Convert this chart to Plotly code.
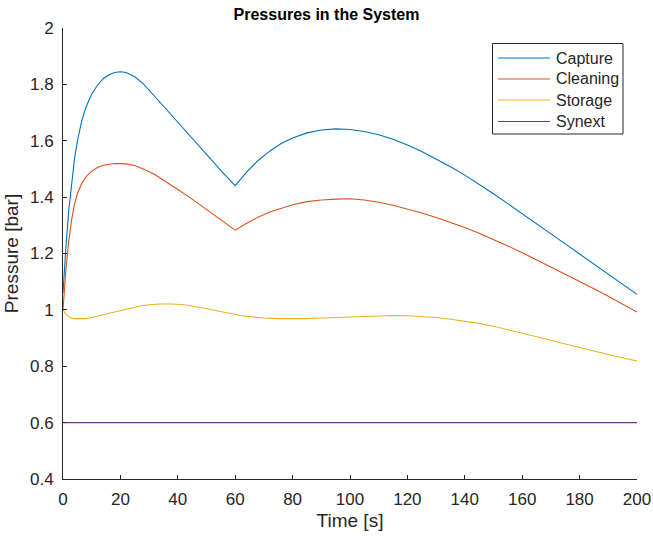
import plotly.graph_objects as go

# Time samples [s] and pressures [bar] for each vessel
t_capture = [0, 0.5, 1, 2, 3, 4, 5, 6.5, 8, 10, 12, 14, 16, 18, 20, 22, 25, 28, 32, 36,
             40, 44, 48, 52, 56, 60, 64, 68, 72, 76, 80, 85, 90, 95, 100, 105, 110, 115,
             120, 125, 130, 135, 140, 145, 150, 155, 160, 165, 170, 175, 180, 185, 190, 195, 200]
p_capture = [1.06, 1.146, 1.222, 1.352, 1.455, 1.535, 1.598, 1.67, 1.72, 1.765, 1.797, 1.82,
             1.834, 1.842, 1.845, 1.842, 1.827, 1.802, 1.757, 1.711, 1.665, 1.618, 1.572,
             1.527, 1.483, 1.441, 1.489, 1.530, 1.563, 1.590, 1.610, 1.628, 1.638, 1.642,
             1.640, 1.633, 1.621, 1.605, 1.585, 1.562, 1.536, 1.508, 1.478, 1.446, 1.412,
             1.377, 1.342, 1.306, 1.270, 1.234, 1.198, 1.162, 1.126, 1.090, 1.055]

t_cleaning = t_capture
p_cleaning = [1.0, 1.077, 1.141, 1.244, 1.319, 1.374, 1.412, 1.448, 1.472, 1.492, 1.505, 1.513,
              1.517, 1.519, 1.519, 1.518, 1.512, 1.5, 1.48, 1.455, 1.427, 1.40, 1.371, 1.342,
              1.313, 1.283, 1.307, 1.329, 1.347, 1.361, 1.373, 1.384, 1.390, 1.393, 1.394,
              1.390, 1.382, 1.371, 1.358, 1.344, 1.328, 1.311, 1.292, 1.272, 1.250, 1.227,
              1.203, 1.178, 1.153, 1.127, 1.101, 1.075, 1.048, 1.020, 0.992]

t_storage = [0, 1, 2, 3, 4, 6, 8, 10, 14, 18, 22, 26, 30, 34, 38, 42, 46, 50, 54, 58, 62, 66,
             70, 75, 80, 85, 90, 95, 100, 105, 110, 115, 120, 125, 130, 135, 140, 145, 150,
             155, 160, 165, 170, 175, 180, 185, 190, 195, 200]
p_storage = [1.0, 0.985, 0.976, 0.971, 0.969, 0.968, 0.969, 0.973, 0.983, 0.994, 1.004, 1.012,
             1.018, 1.021, 1.021, 1.018, 1.012, 1.004, 0.995, 0.987, 0.98, 0.975, 0.971,
             0.969, 0.968, 0.969, 0.971, 0.973, 0.975, 0.978, 0.980, 0.980, 0.979, 0.977,
             0.973, 0.967, 0.960, 0.952, 0.942, 0.930, 0.918, 0.905, 0.892, 0.879, 0.866,
             0.854, 0.842, 0.830, 0.818]

t_synext = [0, 200]
p_synext = [0.6, 0.6]

series_names = ["Capture", "Cleaning", "Storage", "Synext"]
series_colors = ["#0072BD", "#D95319", "#EDB120", "#7E2F8E"]
series_data = [(t_capture, p_capture), (t_cleaning, p_cleaning),
               (t_storage, p_storage), (t_synext, p_synext)]

x_ticks = [0, 20, 40, 60, 80, 100, 120, 140, 160, 180, 200]
y_ticks = [0.4, 0.6, 0.8, 1.0, 1.2, 1.4, 1.6, 1.8, 2.0]
y_tick_text = ["0.4", "0.6", "0.8", "1", "1.2", "1.4", "1.6", "1.8", "2"]

W, H = 653, 536
ML, MR, MT, MB = 63, 16, 28, 57
PW, PH = W - ML - MR, H - MT - MB

axis_color = "#262626"
font_family = "Liberation Sans, Arial, sans-serif"

fig = go.Figure()
for name, (t, p), color in zip(series_names, series_data, series_colors):
    fig.add_trace(go.Scatter(x=t, y=p, mode="lines", name=name, showlegend=False,
                             line=dict(color=color, width=1.1)))


def px_x(px):
    return (px - ML) / PW


def px_y(py):
    return (H - MB - py) / PH


# Boxed legend in the upper right corner of the axes
shapes = [dict(type="rect", xref="paper", yref="paper",
               x0=px_x(492.5), x1=px_x(623), y0=px_y(134), y1=px_y(43.5),
               line=dict(color=axis_color, width=1), fillcolor="white", layer="above")]
annotations = []
row_y = [58, 79, 100, 121.5]
for name, color, ry in zip(series_names, series_colors, row_y):
    shapes.append(dict(type="line", xref="paper", yref="paper",
                       x0=px_x(498), x1=px_x(550), y0=px_y(ry), y1=px_y(ry),
                       line=dict(color=color, width=1.1), layer="above"))
    annotations.append(dict(text=name, xref="paper", yref="paper", x=px_x(554),
                            y=px_y(ry), xanchor="left", yanchor="middle", showarrow=False,
                            font=dict(size=16, color=axis_color)))

fig.update_layout(
    width=W, height=H,
    margin=dict(l=ML, r=MR, t=MT, b=MB, autoexpand=False),
    paper_bgcolor="white", plot_bgcolor="white",
    font=dict(family=font_family, size=17, color=axis_color),
    title=dict(text="<b>Pressures in the System</b>", x=0.5, xanchor="center",
               y=1 - 14 / H, yanchor="middle", font=dict(size=16, color="black")),
    showlegend=False,
    shapes=shapes,
    annotations=annotations,
    xaxis=dict(range=[0, 200], tickvals=x_ticks, ticks="inside", ticklen=4,
               tickcolor=axis_color, showline=True, linecolor=axis_color, linewidth=1,
               showgrid=False, zeroline=False, automargin=False, ticklabelstandoff=5,
               tickfont=dict(size=17),
               title=dict(text="Time [s]", standoff=5, font=dict(size=19))),
    yaxis=dict(range=[0.4, 2.0], tickvals=y_ticks, ticktext=y_tick_text, ticks="inside",
               ticklen=4, tickcolor=axis_color, showline=True, linecolor=axis_color,
               linewidth=1, showgrid=False, zeroline=False, automargin=False,
               ticklabelstandoff=5, tickfont=dict(size=17),
               title=dict(text="Pressure [bar]", standoff=6, font=dict(size=19))),
)

fig.write_html("out.html")
